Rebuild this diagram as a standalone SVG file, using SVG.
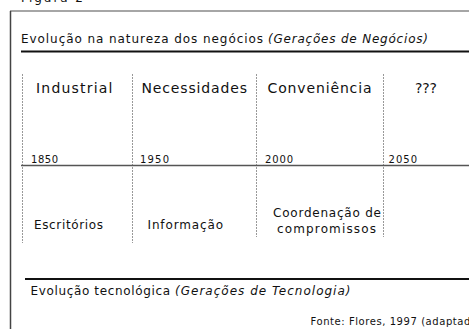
<svg xmlns="http://www.w3.org/2000/svg" width="469" height="329" viewBox="0 0 469 329">
<style>
text{font-family:"DejaVu Sans",Verdana,sans-serif;fill:#111}
.hd{font-size:14px}
.yr{font-size:10px}
.tx{font-size:12px}
.it{font-style:italic}
.dash{stroke:#999;stroke-width:1;stroke-dasharray:2,1;fill:none}
</style>
<rect width="469" height="329" fill="#fff"/>
<text class="tx" x="21" y="2" textLength="62" lengthAdjust="spacing">Figura 2</text>
<g id="frame">
<line x1="10" y1="11" x2="469" y2="11" stroke="#888" stroke-width="1.5"/>
<line x1="10.5" y1="11" x2="10.5" y2="329" stroke="#444" stroke-width="1.5"/>
</g>
<g id="title">
<text class="tx" x="21" y="43" textLength="242" lengthAdjust="spacing">Evolução na natureza dos negócios</text>
<text class="tx it" x="268" y="43" textLength="160" lengthAdjust="spacing">(Gerações de Negócios)</text>
<line x1="21" y1="51.5" x2="469" y2="51.5" stroke="#111" stroke-width="2"/>
</g>
<g id="connectors">
<line class="dash" x1="22.5" y1="74" x2="22.5" y2="243"/>
<line class="dash" x1="132.5" y1="74" x2="132.5" y2="243"/>
<line class="dash" x1="256.5" y1="74" x2="256.5" y2="237"/>
<line class="dash" x1="383.5" y1="74" x2="383.5" y2="237"/>
<line x1="21" y1="165.5" x2="469" y2="165.5" stroke="#555" stroke-width="1.5"/>
</g>
<g id="industrial">
<text class="hd" x="36" y="93" textLength="76.5" lengthAdjust="spacing">Industrial</text>
<text class="yr" x="31" y="163" textLength="27" lengthAdjust="spacing">1850</text>
<text class="tx" x="34" y="229" textLength="69" lengthAdjust="spacing">Escritórios</text>
</g>
<g id="necessidades">
<text class="hd" x="141.5" y="93" textLength="105.5" lengthAdjust="spacing">Necessidades</text>
<text class="yr" x="140" y="163" textLength="29" lengthAdjust="spacing">1950</text>
<text class="tx" x="147.5" y="229" textLength="75.5" lengthAdjust="spacing">Informação</text>
</g>
<g id="conveniencia">
<text class="hd" x="267.5" y="93" textLength="104" lengthAdjust="spacing">Conveniência</text>
<text class="yr" x="265" y="163" textLength="28" lengthAdjust="spacing">2000</text>
<text class="tx" x="273" y="217" textLength="108" lengthAdjust="spacing">Coordenação de</text>
<text class="tx" x="277" y="232.5" textLength="99" lengthAdjust="spacing">compromissos</text>
</g>
<g id="futuro">
<text class="hd" x="415" y="93" textLength="22" lengthAdjust="spacing">???</text>
<text class="yr" x="388.5" y="163" textLength="28.5" lengthAdjust="spacing">2050</text>
</g>
<g id="tecnologia">
<line x1="25" y1="279" x2="469" y2="279" stroke="#111" stroke-width="2"/>
<text class="tx" x="30.5" y="295" textLength="139.5" lengthAdjust="spacing">Evolução tecnológica</text>
<text class="tx it" x="175" y="295" textLength="175.5" lengthAdjust="spacing">(Gerações de Tecnologia)</text>
</g>
<text class="yr" x="310.5" y="325" textLength="171" lengthAdjust="spacing">Fonte: Flores, 1997 (adaptado)</text>
</svg>
